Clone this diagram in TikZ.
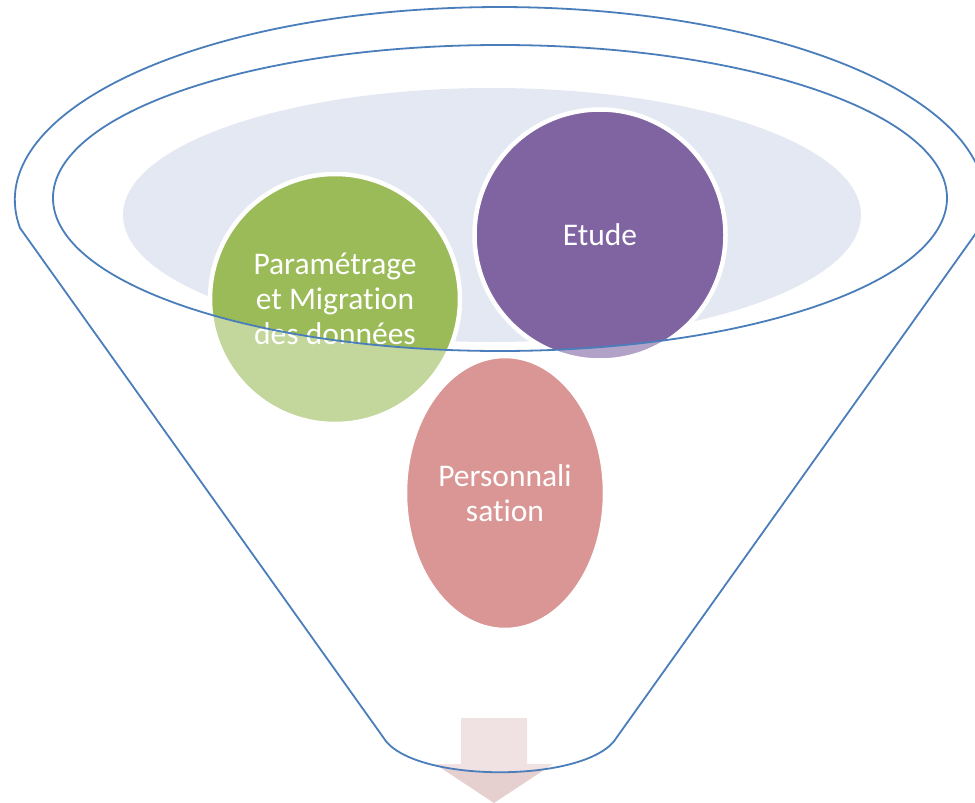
\documentclass[tikz,border=0pt]{standalone}
\usepackage{fontspec}
\setmainfont{Carlito}[Ligatures=NoCommon]
\usetikzlibrary{shapes.geometric}
\definecolor{pgreen}{HTML}{9BBB59}
\definecolor{ppurple}{HTML}{8064A2}
\definecolor{pred}{HTML}{C0504D}
\definecolor{paleblue}{HTML}{E3E8F2}
\definecolor{arrowpink}{HTML}{E6CFCF}
\definecolor{funnelblue}{HTML}{4A7EBB}
\begin{document}
\begin{tikzpicture}[x=1pt,y=-1pt,
  bubble/.style={draw=white,line width=4.5pt,text=white,align=center,
    font=\fontsize{31.5}{35}\selectfont,inner sep=0pt},
  outline/.style={draw=funnelblue,line width=1.8pt},
  veil/.style={fill=white,fill opacity=0.4,even odd rule}]
\useasboundingbox (0,0) rectangle (975,803);
% inner pale ellipse
\fill[paleblue] (492,215) ellipse [x radius=369,y radius=127];
% bubbles
\node[bubble,fill=pgreen,circle,minimum size=250pt] (param) at (335,299)
  {Paramétrage\\et Migration\\des données};
\node[bubble,fill=ppurple,circle,minimum size=251pt] (etude) at (600,235) {Etude};
\node[bubble,fill=pred,ellipse,minimum width=200pt,minimum height=274pt] (perso) at (505,493)
  {Personnali\\sation};
% arrow below funnel
\fill[arrowpink] (461,718) -- (527,718) -- (527,764) -- (553,764) -- (494,803)
  -- (435,764) -- (461,764) -- cycle;
% funnel body veil
\fill[veil] (20,228) arc[start angle=171.66,end angle=368.34,x radius=485,y radius=193]
  -- (617,737) .. controls (590,784) and (410,784) .. (383,737) -- cycle
  (500,198) ellipse [x radius=447,y radius=153];
% funnel outlines
\draw[outline] (20,228) arc[start angle=171.66,end angle=368.34,x radius=485,y radius=193]
  -- (617,737) .. controls (590,784) and (410,784) .. (383,737) -- cycle;
\draw[outline] (500,198) ellipse [x radius=447,y radius=153];
\end{tikzpicture}
\end{document}
